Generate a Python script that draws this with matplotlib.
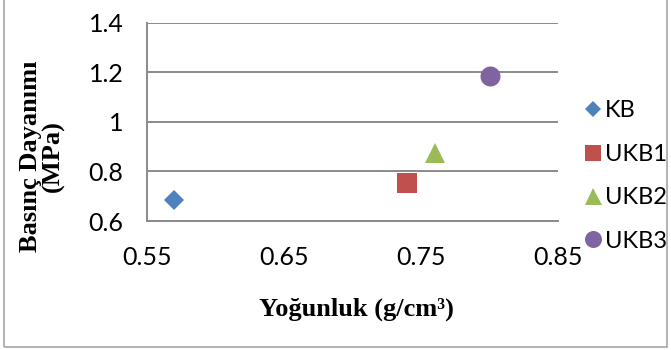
import matplotlib.pyplot as plt
from matplotlib.patches import Rectangle

# Veriler
series = ['KB', 'UKB1', 'UKB2', 'UKB3']
yogunluk = [0.57, 0.74, 0.76, 0.80]
basinc = [0.685, 0.755, 0.875, 1.185]
colors = ['#4F81BD', '#C0504D', '#9BBB59', '#8064A2']
markers = ['D', 's', '^', 'o']
msizes = [9.8, 14, 14.4, 14.4]

x_ticks = [0.55, 0.65, 0.75, 0.85]
y_ticks = [0.6, 0.8, 1.0, 1.2, 1.4]
y_labels = ['0.6', '0.8', '1', '1.2', '1.4']

W, H = 671, 350
fig = plt.figure(figsize=(W / 100, H / 100), dpi=100)
ax = fig.add_axes([147 / W, 1 - 221 / H, (558 - 147) / W, (221 - 22.7) / H])

tick_font = 'Lato'
tick_size = 18
grid_col = '#8a8a8a'

for name, x, y, c, m, ms in zip(series, yogunluk, basinc, colors, markers, msizes):
    ax.plot([x], [y], linestyle='none', marker=m, markersize=ms,
            color=c, markeredgewidth=0, label=name, zorder=3)

ax.set_xlim(0.55, 0.85)
ax.set_ylim(0.6, 1.4)
ax.set_xticks(x_ticks)
ax.set_xticklabels([f'{v:.2f}' for v in x_ticks], fontfamily=tick_font, fontsize=tick_size)
ax.set_yticks(y_ticks)
ax.set_yticklabels(y_labels, fontfamily=tick_font, fontsize=tick_size)
ax.tick_params(axis='y', length=0, pad=17)
ax.tick_params(axis='x', length=0, pad=18)

ax.grid(True, axis='y', color=grid_col, linewidth=1.4)
ax.set_axisbelow(True)
for s in ['top', 'right']:
    ax.spines[s].set_visible(False)
for s in ['left', 'bottom']:
    ax.spines[s].set_color(grid_col)
    ax.spines[s].set_linewidth(1.4)

# Eksen başlıkları
fig.text(356 / W, 1 - 309 / H, 'Yoğunluk (g/cm³)', ha='center', va='center',
         fontfamily='Liberation Serif', fontweight='bold', fontsize=19)
fig.text(42 / W, 1 - 156 / H, 'Basınç Dayanımı\n(MPa)', ha='center', va='center',
         rotation=90, multialignment='center', linespacing=0.95,
         fontfamily='Liberation Serif', fontweight='bold', fontsize=19)

# Lejant
fig.legend(loc='center left', bbox_to_anchor=(587 / W, 1 - 176 / H), frameon=False,
           prop={'family': tick_font, 'size': 17}, handlelength=0.55,
           handletextpad=0.2, labelspacing=0.95, markerscale=0.85,
           borderpad=0, borderaxespad=0)

# Çerçeve
fig.patches.append(Rectangle((4 / W, 1 - 347 / H), (667 - 4) / W, 347 / H + 0.05,
                             transform=fig.transFigure, fill=False,
                             edgecolor='#a6a6a6', linewidth=1.2))

plt.savefig('out.png', dpi=100)
